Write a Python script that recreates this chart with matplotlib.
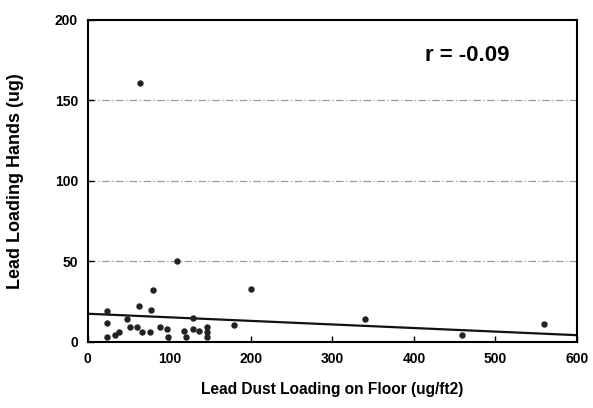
import matplotlib
matplotlib.use("Agg")
import matplotlib.pyplot as plt
import numpy as np

floor_dust = [64, 109, 80, 200, 340, 459, 560, 63, 23, 77, 48, 129, 179, 23, 52, 60, 76, 66,
              88, 97, 118, 129, 137, 146, 146, 146, 33, 38, 23, 98, 120]
hand_lead = [161, 50, 32, 33, 14, 4, 11, 22, 19, 20, 14, 15, 10.5, 12, 9, 9, 6, 6,
             9, 8, 7, 8, 7, 9, 6, 3, 4, 6, 3, 3, 3]
fit_intercept = 17.5
fit_slope = -0.0222
r_label = "r = -0.09"

plt.rcParams['font.family'] = ['Liberation Sans', 'DejaVu Sans']
fig = plt.figure(figsize=(5.93, 4.08), dpi=100)
ax = fig.add_axes([0.148, 0.162, 0.825, 0.789])

for yv in [50, 100, 150]:
    ax.axhline(yv, color='#999999', lw=0.9, ls=(0, (6, 2, 1, 2)), zorder=1)

ax.scatter(floor_dust, hand_lead, s=13, color='#222222', zorder=3)
xs = np.array([0, 600])
ax.plot(xs, fit_intercept + fit_slope * xs, color='#111111', lw=1.6, zorder=2)

ax.text(465, 178, r_label, fontsize=16, fontweight='bold', ha='center', va='center')

ax.set_xlim(0, 600)
ax.set_ylim(0, 200)
ax.set_xticks(range(0, 601, 100))
ax.set_yticks(range(0, 201, 50))
ax.tick_params(direction='in', length=4, width=1, labelsize=10, pad=7)
for lab in ax.get_xticklabels() + ax.get_yticklabels():
    lab.set_fontweight('bold')
for sp in ax.spines.values():
    sp.set_linewidth(1.5)
ax.set_xlabel("Lead Dust Loading on Floor (ug/ft2)", fontsize=11.2, fontweight='bold', labelpad=12)
ax.set_ylabel("Lead Loading Hands (ug)", fontsize=13, fontweight='bold', labelpad=22)

fig.savefig("out.png", dpi=100)
